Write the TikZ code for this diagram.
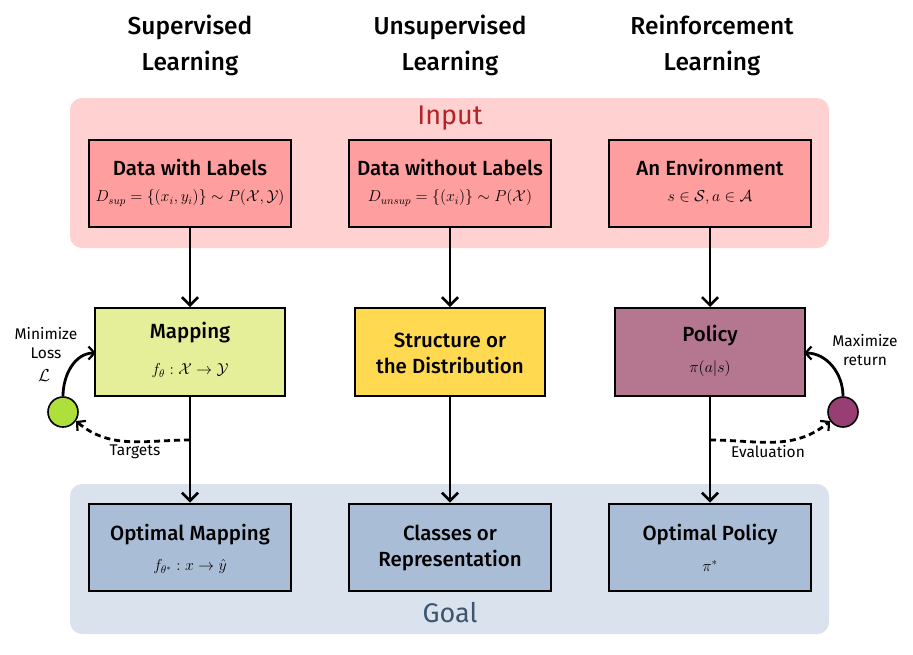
\documentclass[tikz,border=0pt]{standalone}
\usepackage{fontspec}
\setmainfont{Fira Sans}
\newfontfamily\medfont{Fira Sans Medium}
\newfontfamily\bookfont{Fira Sans}
\usetikzlibrary{arrows.meta}
\newcommand{\myfm}[1]{\scalebox{1.1}{$#1$}}
\definecolor{inbg}{HTML}{FFD1D1}
\definecolor{goalbg}{HTML}{DAE3ED}
\definecolor{inbox}{HTML}{FF9E9E}
\definecolor{mapbox}{HTML}{E5EE99}
\definecolor{strbox}{HTML}{FFD950}
\definecolor{polbox}{HTML}{B5768F}
\definecolor{goalbox}{HTML}{AABDD6}
\definecolor{inred}{HTML}{B42328}
\definecolor{goalblue}{HTML}{3E5570}
\definecolor{greenc}{HTML}{ADE03A}
\definecolor{purplec}{HTML}{983E72}
\tikzset{
  bigbox/.style={draw=black, line width=2pt, minimum width=202pt, minimum height=87pt, inner sep=0pt, align=center},
  midbox/.style={draw=black, line width=2pt, minimum width=190pt, minimum height=88pt, inner sep=0pt, align=center},
  ttl/.style={font=\medfont\fontsize{20.5}{24}\selectfont},
  frm/.style={font=\fontsize{14.4}{17}\selectfont},
  head/.style={font=\medfont\fontsize{24.5}{36}\selectfont, align=center},
  small/.style={font=\bookfont\fontsize{15.5}{19}\selectfont, align=center},
  flow/.style={line width=2.8pt, -{Straight Barb[length=8pt,width=16pt,line width=2.6pt]}},
  fb/.style={line width=2.8pt, -{Straight Barb[length=6pt,width=13pt,line width=2.2pt]}},
  dfb/.style={line width=2.8pt, dash pattern=on 6pt off 4pt, -{Straight Barb[length=6pt,width=13pt,line width=2.2pt]}},
  circ/.style={circle, draw=black, line width=1.6pt, minimum size=30pt, inner sep=0pt}
}
\begin{document}
\begin{tikzpicture}[x=1pt,y=-1pt]
\useasboundingbox (0,0) rectangle (913,654);
\fill[white] (0,0) rectangle (913,654);
% backgrounds
\fill[inbg, rounded corners=12pt] (70,98) rectangle (829,248);
\fill[goalbg, rounded corners=12pt] (70,484) rectangle (829,634);
\node[font=\bookfont\fontsize{27}{30}\selectfont, text=inred] (inlbl) at (450,118) {Input};
\node[font=\bookfont\fontsize{27}{30}\selectfont, text=goalblue] (goallbl) at (450,613) {Goal};
% headings
\node[head] (h1) at (190,45) {Supervised\\Learning};
\node[head] (h2) at (450,45) {Unsupervised\\Learning};
\node[head] (h3) at (712,45) {Reinforcement\\Learning};
% input boxes
\node[bigbox, fill=inbox] (in1) at (190,183) {};
\node[ttl] at (190,167) {Data with Labels};
\node[frm] at (190,198) {\myfm{D_{sup}=\{(x_i,y_i)\}\sim P(\mathcal{X},\mathcal{Y})}};
\node[bigbox, fill=inbox] (in2) at (450,183) {};
\node[ttl] at (450,167) {Data without Labels};
\node[frm] at (450,198) {\myfm{D_{unsup}=\{(x_i)\}\sim P(\mathcal{X})}};
\node[bigbox, fill=inbox] (in3) at (710,183) {};
\node[ttl] at (710,167) {An Environment};
\node[frm] at (710,198) {\myfm{s\in\mathcal{S}, a\in\mathcal{A}}};
% middle boxes
\node[midbox, fill=mapbox] (m1) at (190,352) {};
\node[ttl] at (190,333) {Mapping};
\node[frm] at (190,371) {\myfm{f_\theta:\mathcal{X}\rightarrow\mathcal{Y}}};
\node[midbox, fill=strbox] (m2) at (450,352) {};
\node[ttl, align=center, font=\medfont\fontsize{20.5}{26}\selectfont] at (450,353) {Structure or\\the Distribution};
\node[midbox, fill=polbox] (m3) at (710,352) {};
\node[ttl] at (710,336) {Policy};
\node[frm] at (710,369) {\myfm{\pi(a|s)}};
% goal boxes
\node[bigbox, fill=goalbox] (g1) at (190,547) {};
\node[ttl] at (190,535) {Optimal Mapping};
\node[frm] at (190,567) {\myfm{f_{\theta^*}:x\rightarrow\hat{y}}};
\node[bigbox, fill=goalbox] (g2) at (450,547) {};
\node[ttl, align=center, font=\medfont\fontsize{20.5}{26}\selectfont] at (450,548) {Classes or\\Representation};
\node[bigbox, fill=goalbox] (g3) at (710,547) {};
\node[ttl] at (710,535) {Optimal Policy};
\node[frm] at (710,566) {\myfm{\pi^*}};
% main flow
\draw[flow] (in1) -- (m1);
\draw[flow] (in2) -- (m2);
\draw[flow] (in3) -- (m3);
\draw[flow] (m1) -- (g1);
\draw[flow] (m2) -- (g2);
\draw[flow] (m3) -- (g3);
% feedback loops
\node[circ, fill=greenc] (c1) at (63,412) {};
\node[circ, fill=purplec] (c2) at (843,412) {};
\coordinate (t1) at (190,440);
\coordinate (t2) at (710,440);
\coordinate (e1) at (96,353);
\coordinate (e2) at (804,353);
\draw[fb] (c1.north) to[out=90,in=180] (e1);
\draw[fb] (c2.north) to[out=90,in=0] (e2);
\draw[dfb] (t1) to[out=180,in=-40] (c1.-35);
\draw[dfb] (t2) to[out=0,in=-140] (c2.-145);
\node[small] (l1) at (46,343) {Minimize\\Loss};
\node[font=\fontsize{17}{20}\selectfont] (l1b) at (44,376) {$\mathcal{L}$};
\node[small] (l2) at (865,350) {Maximize\\return};
\node[small] (tg) at (135,452) {Targets};
\node[small] (ev) at (768,452) {Evaluation};
\end{tikzpicture}
\end{document}
